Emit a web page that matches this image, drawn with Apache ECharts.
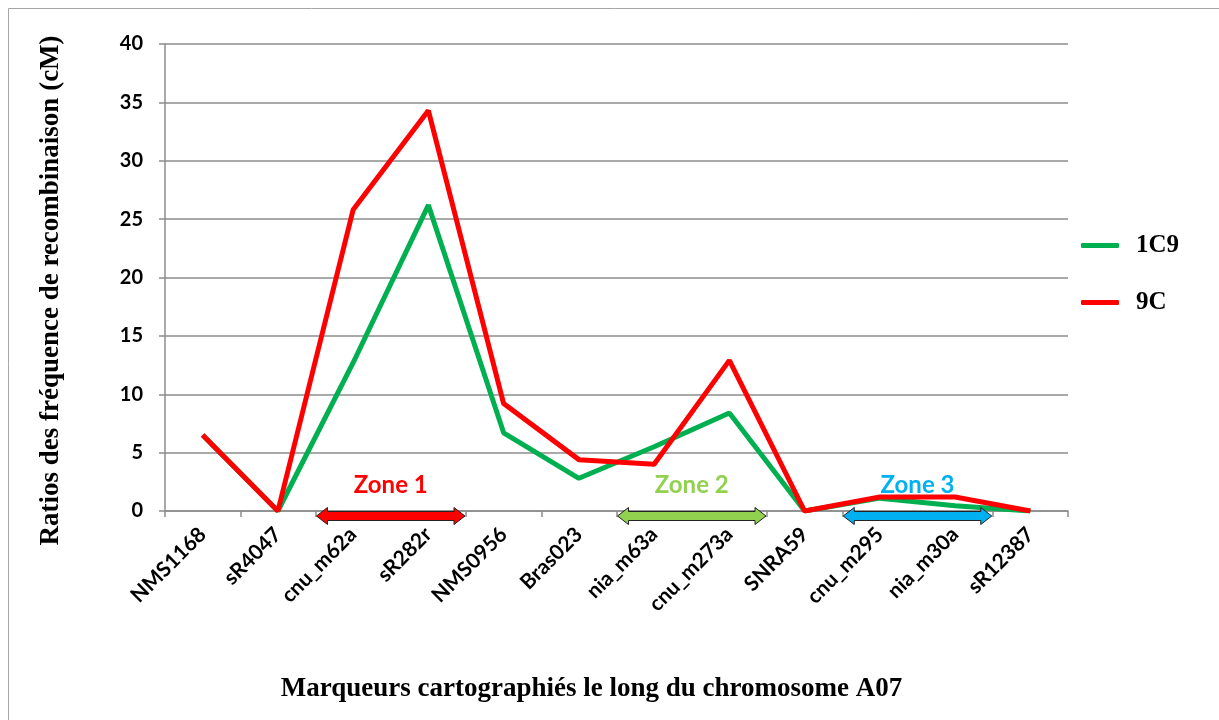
<!DOCTYPE html>
<html>
<head>
<meta charset="utf-8">
<script src="https://cdn.jsdelivr.net/npm/echarts@6/dist/echarts.min.js"></script>
<style>
  html, body { margin: 0; padding: 0; background: #fff; }
  #chart { width: 1219px; height: 720px; }
</style>
</head>
<body>
<div id="chart"></div>
<script>
var markers = ['NMS1168', 'sR4047', 'cnu_m62a', 'sR282r', 'NMS0956', 'Bras023',
               'nia_m63a', 'cnu_m273a', 'SNRA59', 'cnu_m295', 'nia_m30a', 'sR12387'];
var yTicks = [0, 5, 10, 15, 20, 25, 30, 35, 40];
var green1C9 = [6.5, 0, 12.7, 26.2, 6.7, 2.8, 5.5, 8.4, 0, 1.1, 0.45, 0];
var red9C = [6.5, 0, 25.8, 34.3, 9.2, 4.4, 4.0, 12.9, 0, 1.2, 1.2, 0];
// zones: first marker, last marker, label, colour
var zones = [
    [2, 3, 'Zone 1', '#ff0000'],
    [6, 7, 'Zone 2', '#92d050'],
    [9, 10, 'Zone 3', '#00b0f0']
];

var chart = echarts.init(document.getElementById('chart'), null, {renderer: 'canvas'});

function zoneItem(params, api) {
    var a = api.coord([api.value(0), 0]);
    var b = api.coord([api.value(1), 0]);
    var bw = api.size([1, 0])[0];
    var x1 = a[0] - bw / 2 + 1, x2 = b[0] + bw / 2 - 1;
    var y = a[1] + 5;
    var h = 4.5, hh = 8.5, hl = 11;
    var zone = zones[params.dataIndex];
    return {
        type: 'group',
        children: [{
            type: 'polygon',
            shape: {points: [
                [x1, y], [x1 + hl, y - hh], [x1 + hl, y - h], [x2 - hl, y - h], [x2 - hl, y - hh],
                [x2, y], [x2 - hl, y + hh], [x2 - hl, y + h], [x1 + hl, y + h], [x1 + hl, y + hh]
            ]},
            style: {fill: zone[3], stroke: '#222', lineWidth: 1}
        }, {
            type: 'text',
            x: (x1 + x2) / 2,
            y: y - 31,
            style: {
                text: zone[2], fill: zone[3], align: 'center', verticalAlign: 'middle',
                font: 'bold 24px Lato, "Open Sans", sans-serif'
            }
        }]
    };
}

chart.setOption({
    backgroundColor: '#fff',
    animation: false,
    graphic: [{
        type: 'rect',
        shape: {x: 8.5, y: 8.5, width: 1215, height: 720},
        style: {fill: 'none', stroke: '#a6a6a6', lineWidth: 1}
    }],
    grid: {left: 165, right: 151, top: 44, bottom: 209},
    legend: {
        orient: 'vertical',
        left: 1076,
        top: 228,
        itemGap: 32,
        itemWidth: 38,
        itemHeight: 5,
        icon: 'roundRect',
        textStyle: {fontFamily: '"Liberation Serif", serif', fontWeight: 'bold', fontSize: 25, color: '#000', padding: [0, 0, 0, 12]},
        data: ['1C9', '9C']
    },
    xAxis: {
        type: 'category',
        data: markers,
        boundaryGap: true,
        name: 'Marqueurs cartographiés le long du chromosome A07',
        nameLocation: 'middle',
        nameGap: 165,
        nameTextStyle: {fontFamily: '"Liberation Serif", serif', fontWeight: 'bold', fontSize: 27, color: '#000', padding: [0, 50, 0, 0]},
        axisLine: {lineStyle: {color: '#8c8c8c', width: 1.5}},
        axisTick: {show: true, alignWithLabel: false, length: 6, lineStyle: {color: '#8c8c8c', width: 1.5}},
        axisLabel: {
            rotate: 45, interval: 0, margin: 20, color: '#000',
            fontFamily: 'Lato, "Open Sans", sans-serif', fontWeight: 'bold', fontSize: 21
        }
    },
    yAxis: {
        type: 'value',
        min: yTicks[0],
        max: yTicks[yTicks.length - 1],
        interval: 5,
        name: 'Ratios des fréquence de recombinaison (cM)',
        nameLocation: 'middle',
        nameRotate: 90,
        nameGap: 100,
        nameTextStyle: {fontFamily: '"Liberation Serif", serif', fontWeight: 'bold', fontSize: 27, color: '#000', padding: [0, 26, 0, 0]},
        axisLine: {show: true, lineStyle: {color: '#8c8c8c', width: 1.5}},
        axisTick: {show: true, length: 6, lineStyle: {color: '#8c8c8c', width: 1.5}},
        axisLabel: {
            margin: 22, color: '#000',
            fontFamily: 'Lato, "Open Sans", sans-serif', fontWeight: 'bold', fontSize: 20
        },
        splitLine: {lineStyle: {color: '#8c8c8c', width: 1.5}}
    },
    series: [{
        name: '1C9',
        type: 'line',
        data: green1C9,
        symbol: 'none',
        color: '#00b050',
        lineStyle: {width: 5, color: '#00b050'}
    }, {
        name: '9C',
        type: 'line',
        data: red9C,
        symbol: 'none',
        color: '#ff0000',
        lineStyle: {width: 5, color: '#ff0000'}
    }, {
        name: 'zones',
        type: 'custom',
        clip: false,
        z: 5,
        renderItem: zoneItem,
        data: zones.map(function (z) { return [z[0], z[1]]; }),
        encode: {x: [0, 1]},
        tooltip: {show: false}
    }]
});
</script>
</body>
</html>
